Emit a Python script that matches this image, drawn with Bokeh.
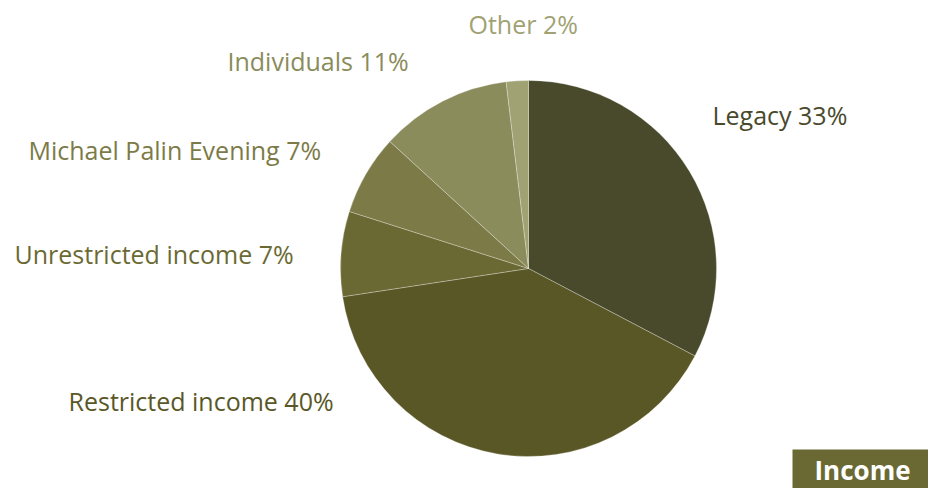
import math
from bokeh.plotting import figure
from bokeh.models import Range1d, ColumnDataSource
from bokeh.core.properties import value
from bokeh.embed import file_html
from bokeh.resources import INLINE

# ---- data ----
categories = ["Legacy", "Restricted income", "Unrestricted income",
              "Michael Palin Evening", "Individuals", "Other"]
shares = [32.7, 39.9, 7.3, 6.9, 11.3, 1.9]
share_labels = ["33%", "40%", "7%", "7%", "11%", "2%"]
colors = ["#484A2B", "#5A5726", "#6B6933", "#7C7B47", "#8A8C5C", "#A0A274"]

# ---- layout ----
W, H = 928, 488
CX, CY, R = 528, 220, 188
label_pos = [(712, 374), (68, 88), (14, 235), (28, 338.5), (227, 427.5), (468, 464.5)]
FONT = "Open Sans"

total = sum(shares)
starts, ends = [], []
cum = 0.0
for s in shares:
    starts.append(math.pi / 2 - 2 * math.pi * cum / total)
    cum += s
    ends.append(math.pi / 2 - 2 * math.pi * cum / total)

src = ColumnDataSource(dict(cat=categories, start=starts, end=ends, color=colors))

p = figure(width=W, height=H, x_range=Range1d(0, W), y_range=Range1d(0, H),
           output_backend="svg", toolbar_location=None,
           x_axis_type=None, y_axis_type=None, min_border=0)
p.outline_line_color = None
p.grid.visible = False
p.background_fill_color = "white"
p.border_fill_color = "white"

p.wedge(x=CX, y=CY, radius=R, start_angle="start", end_angle="end",
        direction="clock", fill_color="color", line_color="white",
        line_alpha=0.35, line_width=0.8, source=src)

lab_src = ColumnDataSource(dict(
    x=[xy[0] for xy in label_pos], y=[xy[1] for xy in label_pos],
    text=[f"{c} {l}" for c, l in zip(categories, share_labels)],
    color=colors))
p.text(x="x", y="y", text="text", text_color="color", source=lab_src,
       text_font=value(FONT), text_font_size="25px",
       text_align="left", text_baseline="middle")

# "Income" tag
p.quad(left=792, right=935, bottom=0, top=39, fill_color="#6B6933", line_color=None)
p.text(x=[862], y=[19], text=["Income"], text_color="white",
       text_font=value(FONT), text_font_size="26px", text_font_style="bold",
       text_align="center", text_baseline="middle")

open("out.html", "w").write(file_html(p, INLINE))
